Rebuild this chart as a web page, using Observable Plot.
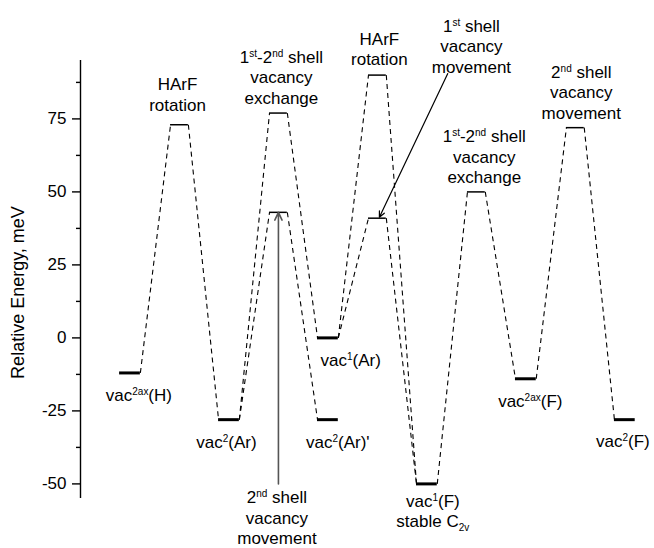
<!DOCTYPE html>
<html>
<head>
<meta charset="utf-8">
<script src="https://cdn.jsdelivr.net/npm/d3@7"></script>
<script src="https://cdn.jsdelivr.net/npm/@observablehq/plot@0.6"></script>
<style>
  html, body { margin: 0; padding: 0; background: #fff; }
  #chart svg { display: block; }
</style>
</head>
<body>
<div id="chart"></div>
<script>
// ---- Energy levels (reaction coordinate index, relative energy in meV) ----
const levelNames  = ["vac2ax(H)", "TS rot 1", "vac2(Ar)", "TS exch 1", "TS move 2nd", "vac2(Ar)'", "vac1(Ar)",
                     "TS rot 2", "TS move 1st", "vac1(F)", "TS exch 2", "vac2ax(F)", "TS move 2nd b", "vac2(F)"];
const levelCoord  = [0, 1, 2, 3, 3, 4, 4, 5, 5, 6, 7, 8, 9, 10];
const levelEnergy = [-12, 73, -28, 77, 43, -28, 0, 90, 41, -50, 50, -14, 72, -28];
const levelKind   = ["min", "ts", "min", "ts", "ts", "min", "min", "ts", "ts", "min", "ts", "min", "ts", "min"];

// ---- Dashed connections (from level -> to level) ----
const connFrom = ["vac2ax(H)", "TS rot 1", "vac2(Ar)", "vac2(Ar)", "TS exch 1", "TS move 2nd", "vac1(Ar)", "vac1(Ar)",
                  "TS rot 2", "TS move 1st", "vac1(F)", "TS exch 2", "vac2ax(F)", "TS move 2nd b"];
const connTo   = ["TS rot 1", "vac2(Ar)", "TS exch 1", "TS move 2nd", "vac1(Ar)", "vac2(Ar)'", "TS rot 2", "TS move 1st",
                  "vac1(F)", "vac1(F)", "TS exch 2", "vac2ax(F)", "TS move 2nd b", "vac2(F)"];

// ---- Text labels (anchored at last-line baseline, in data units) ----
const labelText = [
  "HArF\nrotation",
  "1^{st}-2^{nd} shell\nvacancy\nexchange",
  "HArF\nrotation",
  "1^{st} shell\nvacancy\nmovement",
  "1^{st}-2^{nd} shell\nvacancy\nexchange",
  "2^{nd} shell\nvacancy\nmovement",
  "2^{nd} shell\nvacancy\nmovement",
  "vac^{2ax}(H)",
  "vac^{2}(Ar)",
  "vac^{2}(Ar)'",
  "vac^{1}(Ar)",
  "vac^{1}(F)\nstable C_{2v}",
  "vac^{2ax}(F)",
  "vac^{2}(F)"
];
const labelCoord  = [0.96, 3.06, 5.04, 6.9, 7.16, 9.12, 2.97, 0.18, 1.95, 4.2, 4.46, 6.12, 8.09, 9.96];
const labelEnergy = [77.8, 80.2, 93.3, 90.8, 53, 75.1, -70.6, -21.5, -37.6, -37.6, -9.5, -64.9, -23.8, -37.5];

// ---- Annotation arrows ----
const arrowX1 = [3, 6.42];
const arrowY1 = [-50, 90.5];
const arrowX2 = [3, 5.04];
const arrowY2 = [43, 41.3];

// ---- Axis ----
const yMajorTicks = [-50, -25, 0, 25, 50, 75];
const yMinorTicks = [-37.5, -12.5, 12.5, 37.5, 62.5, 87.5];
const yDomain = [-55, 95];
const xDomain = [-1, 10.6];
const yTitle = "Relative Energy, meV";

// ---- Build tables ----
const HW_MIN = 0.21, HW_TS = 0.18;
const levels = levelNames.map((name, i) => {
  const hw = levelKind[i] === "min" ? HW_MIN : HW_TS;
  return {name, kind: levelKind[i], e: levelEnergy[i], x1: levelCoord[i] - hw, x2: levelCoord[i] + hw};
});
const byName = new Map(levels.map(d => [d.name, d]));
const links = connFrom.map((f, i) => {
  const a = byName.get(f), b = byName.get(connTo[i]);
  return {x1: a.x2, y1: a.e, x2: b.x1, y2: b.e};
});
const labels = labelText.map((t, i) => ({t, x: labelCoord[i], y: labelEnergy[i]}));
const arrows = arrowX1.map((x1, i) => ({x1, y1: arrowY1[i], x2: arrowX2[i], y2: arrowY2[i]}));

const FONT = "'Liberation Sans', Arial, Helvetica, sans-serif";

const chart = Plot.plot({
  width: 654,
  height: 548,
  marginLeft: 80,
  marginRight: 0,
  marginTop: 60,
  marginBottom: 50,
  style: {fontFamily: FONT, fontSize: "17px", color: "#000", background: "#fff", overflow: "visible"},
  x: {domain: xDomain, axis: null},
  y: {domain: yDomain},
  marks: [
    Plot.axisY({ticks: yMajorTicks, tickSize: 8, tickPadding: 6, tickFormat: d => String(d), label: null,
                stroke: "#000", strokeWidth: 1.4, fill: "#000", fontSize: 17}),
    Plot.axisY({ticks: yMinorTicks, tickSize: 4, tickFormat: () => "", label: null, stroke: "#000", strokeWidth: 1.4}),
    Plot.ruleX([xDomain[0]], {y1: yDomain[0], y2: yDomain[1], stroke: "#000", strokeWidth: 1.4}),
    Plot.text([yTitle], {frameAnchor: "left", textAnchor: "middle", dx: -62, dy: 13, rotate: -90, fontSize: 18, fill: "#000"}),
    Plot.link(links, {x1: "x1", y1: "y1", x2: "x2", y2: "y2", stroke: "#000", strokeWidth: 1.1, strokeDasharray: "5,4"}),
    Plot.ruleY(levels.filter(d => d.kind === "min"), {y: "e", x1: "x1", x2: "x2", stroke: "#000", strokeWidth: 3}),
    Plot.ruleY(levels.filter(d => d.kind === "ts"), {y: "e", x1: "x1", x2: "x2", stroke: "#000", strokeWidth: 1.5}),
    Plot.arrow(arrows.slice(0, 1), {x1: "x1", y1: "y1", x2: "x2", y2: "y2", stroke: "#555", strokeWidth: 1.6, headLength: 8, headAngle: 50}),
    Plot.arrow(arrows.slice(1, 2), {x1: "x1", y1: "y1", x2: "x2", y2: "y2", stroke: "#000", strokeWidth: 1.2, headLength: 8, headAngle: 50}),
    Plot.text(labels, {x: "x", y: "y", text: "t", lineAnchor: "bottom", lineHeight: 1.2, fontSize: 17, fill: "#000", textAnchor: "middle"})
  ]
});

// Convert ^{..} / _{..} markup into super/subscript tspans
const SVGNS = "http://www.w3.org/2000/svg";
function richify(el) {
  const s = el.textContent;
  if (!/[\^_]\{/.test(s)) return;
  while (el.firstChild) el.removeChild(el.firstChild);
  const re = /([\^_])\{([^}]*)\}/g;
  let last = 0, m;
  while ((m = re.exec(s))) {
    if (m.index > last) el.appendChild(document.createTextNode(s.slice(last, m.index)));
    const t = document.createElementNS(SVGNS, "tspan");
    t.setAttribute("font-size", "10");
    t.setAttribute("baseline-shift", m[1] === "^" ? "6" : "-4");
    t.textContent = m[2];
    el.appendChild(t);
    last = re.lastIndex;
  }
  if (last < s.length) el.appendChild(document.createTextNode(s.slice(last)));
}
chart.querySelectorAll("text").forEach(txt => {
  const spans = txt.querySelectorAll("tspan");
  if (spans.length) spans.forEach(richify); else richify(txt);
});

document.getElementById("chart").appendChild(chart);
</script>
</body>
</html>
